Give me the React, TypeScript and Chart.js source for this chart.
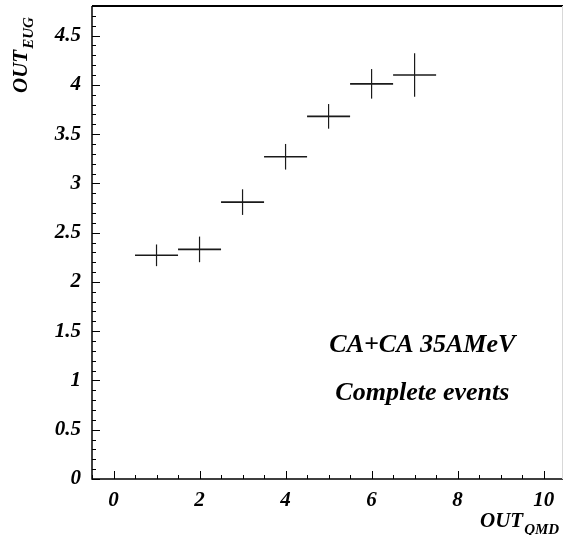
import { useEffect, useRef } from 'react';
import { Chart, registerables } from 'chart.js';

Chart.register(...registerables);

// ---- data ----
const xValues = [1, 2, 3, 4, 5, 6, 7];
const yValues = [2.27, 2.33, 2.81, 3.27, 3.68, 4.01, 4.1];
const xErrors = [0.5, 0.5, 0.5, 0.5, 0.5, 0.5, 0.5];
const yErrors = [0.11, 0.13, 0.13, 0.13, 0.125, 0.15, 0.22];
const xTickLabels = [0, 2, 4, 6, 8, 10];
const yTickLabels = [0, 0.5, 1, 1.5, 2, 2.5, 3, 3.5, 4, 4.5];
const annotationLines = ['CA+CA 35AMeV', 'Complete events'];

const X_MIN = -0.5;
const X_MAX = 10.45;
const Y_MIN = 0;
const Y_MAX = 4.8;

const FONT = '"Liberation Serif", "DejaVu Serif", serif';

const xMinor: number[] = [];
for (let i = -1; i <= 21; i++) xMinor.push(i * 0.5);
const yMinor: number[] = [];
for (let i = 0; i <= 48; i++) yMinor.push(Math.round(i * 10) / 100);

const drawPlugin = {
  id: 'physicsDraw',
  afterDatasetsDraw(chart: any) {
    const ctx = chart.ctx as CanvasRenderingContext2D;
    const xs = chart.scales.x;
    const ys = chart.scales.y;
    ctx.save();
    ctx.strokeStyle = '#1a1a1a';
    for (let i = 0; i < xValues.length; i++) {
      const x0 = xs.getPixelForValue(xValues[i] - xErrors[i]);
      const x1 = xs.getPixelForValue(xValues[i] + xErrors[i]);
      const xc = xs.getPixelForValue(xValues[i]);
      const yc = ys.getPixelForValue(yValues[i]);
      const y0 = ys.getPixelForValue(yValues[i] - yErrors[i]);
      const y1 = ys.getPixelForValue(yValues[i] + yErrors[i]);
      ctx.lineWidth = 1.6;
      ctx.beginPath();
      ctx.moveTo(x0, yc);
      ctx.lineTo(x1, yc);
      ctx.stroke();
      ctx.lineWidth = 1.2;
      ctx.beginPath();
      ctx.moveTo(xc, y0);
      ctx.lineTo(xc, y1);
      ctx.stroke();
    }
    ctx.restore();
  },
  afterDraw(chart: any) {
    const ctx = chart.ctx as CanvasRenderingContext2D;
    const xs = chart.scales.x;
    const ys = chart.scales.y;
    const area = chart.chartArea;
    ctx.save();
    // frame
    ctx.strokeStyle = '#000';
    ctx.lineWidth = 1.5;
    ctx.beginPath();
    ctx.moveTo(area.left, area.top);
    ctx.lineTo(area.left, area.bottom);
    ctx.lineTo(area.right, area.bottom);
    ctx.stroke();
    ctx.lineWidth = 2;
    ctx.beginPath();
    ctx.moveTo(area.left, area.top);
    ctx.lineTo(area.right, area.top);
    ctx.stroke();
    ctx.strokeStyle = '#d8d8d8';
    ctx.lineWidth = 1;
    ctx.beginPath();
    ctx.moveTo(area.right - 0.5, area.top);
    ctx.lineTo(area.right - 0.5, area.bottom);
    ctx.stroke();

    // tick marks (inside)
    ctx.strokeStyle = '#000';
    ctx.lineWidth = 1;
    xMinor.forEach((v) => {
      if (v < X_MIN || v > X_MAX) return;
      const px = Math.round(xs.getPixelForValue(v)) + 0.5;
      const major = Math.abs(v / 2 - Math.round(v / 2)) < 1e-6;
      const len = major ? 8 : 4;
      ctx.beginPath();
      ctx.moveTo(px, area.bottom);
      ctx.lineTo(px, area.bottom - len);
      ctx.stroke();
    });
    yMinor.forEach((v) => {
      if (v < Y_MIN || v > Y_MAX) return;
      const py = Math.round(ys.getPixelForValue(v)) + 0.5;
      const major = Math.abs(v * 2 - Math.round(v * 2)) < 1e-6;
      const len = major ? 8 : 4;
      ctx.beginPath();
      ctx.moveTo(area.left, py);
      ctx.lineTo(area.left + len, py);
      ctx.stroke();
    });

    // axis titles
    ctx.fillStyle = '#000';
    ctx.textBaseline = 'alphabetic';
    ctx.textAlign = 'left';
    // y title, rotated
    ctx.save();
    ctx.translate(27, 93);
    ctx.rotate(-Math.PI / 2);
    ctx.font = `bold italic 21px ${FONT}`;
    ctx.fillText('OUT', 0, 0);
    const wy = ctx.measureText('OUT').width;
    ctx.font = `bold italic 15px ${FONT}`;
    ctx.fillText('EUG', wy + 1, 6);
    ctx.restore();
    // x title
    ctx.font = `bold italic 21px ${FONT}`;
    ctx.fillText('OUT', 480, 527);
    const wx = ctx.measureText('OUT').width;
    ctx.font = `bold italic 15px ${FONT}`;
    ctx.fillText('QMD', 480 + wx + 1, 534);

    // annotation
    ctx.textAlign = 'center';
    ctx.font = `bold italic 26px ${FONT}`;
    const ax = xs.getPixelForValue(7.18);
    ctx.fillText(annotationLines[0], ax, ys.getPixelForValue(1.29));
    ctx.fillText(annotationLines[1], ax, ys.getPixelForValue(0.8));
    ctx.restore();
  },
};

export default function App() {
  const ref = useRef<HTMLCanvasElement | null>(null);
  useEffect(() => {
    if (!ref.current) return;
    const chart = new Chart(ref.current, {
      type: 'scatter',
      data: {
        datasets: [
          {
            data: xValues.map((x, i) => ({ x, y: yValues[i] })),
            pointRadius: 0,
            showLine: false,
            borderColor: '#000',
            backgroundColor: '#000',
          },
        ],
      },
      options: {
        animation: false,
        responsive: false,
        maintainAspectRatio: false,
        layout: { padding: { top: 6, right: 1, left: 0, bottom: 0 } },
        plugins: { legend: { display: false }, tooltip: { enabled: false } },
        scales: {
          x: {
            type: 'linear',
            min: X_MIN,
            max: X_MAX,
            border: { display: false },
            grid: { display: false, drawTicks: false },
            afterBuildTicks: (s: any) => {
              s.ticks = xTickLabels.map((v) => ({ value: v }));
            },
            afterFit: (s: any) => {
              s.height = 56;
              s.paddingLeft = 0;
              s.paddingRight = 0;
              s.paddingTop = 0;
              s.paddingBottom = 0;
            },
            ticks: {
              autoSkip: false,
              maxRotation: 0,
              padding: 9,
              color: '#000',
              font: { family: FONT, size: 21, weight: 'bold', style: 'italic' },
              callback: (v: any) => String(v),
            },
          },
          y: {
            type: 'linear',
            min: Y_MIN,
            max: Y_MAX,
            border: { display: false },
            grid: { display: false, drawTicks: false },
            afterBuildTicks: (s: any) => {
              s.ticks = yTickLabels.map((v) => ({ value: v }));
            },
            afterFit: (s: any) => {
              s.width = 92;
              s.paddingLeft = 0;
              s.paddingRight = 0;
              s.paddingTop = 0;
              s.paddingBottom = 0;
            },
            ticks: {
              autoSkip: false,
              padding: 11,
              color: '#000',
              font: { family: FONT, size: 21, weight: 'bold', style: 'italic' },
              callback: (v: any) => String(v),
            },
          },
        },
      },
      plugins: [drawPlugin],
    });
    return () => chart.destroy();
  }, []);
  return (
    <div style={{ position: 'absolute', left: 0, top: 0, width: 564, height: 535, background: '#fff' }}>
      <canvas ref={ref} width={564} height={535} style={{ display: 'block' }} />
    </div>
  );
}
